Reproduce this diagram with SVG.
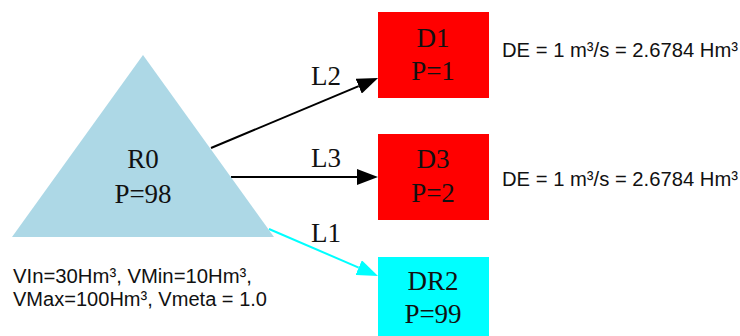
<svg xmlns="http://www.w3.org/2000/svg" width="740" height="336" viewBox="0 0 740 336">
<style>
.n{font-family:"Liberation Serif","Times New Roman",serif;font-size:27px;fill:#111;text-anchor:middle}
.s{font-family:"Liberation Sans",Arial,sans-serif;font-size:20px;fill:#111}
.e{fill:none;stroke-width:2}
</style>
<defs>
<marker id="ab" markerUnits="userSpaceOnUse" markerWidth="22" markerHeight="16" refX="0" refY="8" orient="auto"><path d="M0,0 L21,8 L0,16 z" fill="#000"/></marker>
<marker id="ac" markerUnits="userSpaceOnUse" markerWidth="22" markerHeight="16" refX="0" refY="8" orient="auto"><path d="M0,0 L21,8 L0,16 z" fill="#00FFFF"/></marker>
</defs>
<rect width="740" height="336" fill="#fff"/>
<g id="connectors">
<line class="e" x1="211" y1="148" x2="358.7" y2="86.2" stroke="#000" marker-end="url(#ab)"/>
<text class="n" x="326" y="85">L2</text>
<line class="e" x1="231" y1="177" x2="357" y2="177" stroke="#000" marker-end="url(#ab)"/>
<text class="n" x="326" y="167">L3</text>
<line class="e" x1="269" y1="229" x2="358.7" y2="267.6" stroke="#00FFFF" marker-end="url(#ac)"/>
<text class="n" x="326" y="242">L1</text>
</g>
<g id="R0">
<polygon points="143,55 274,237 12,237" fill="#ADD8E6"/>
<text class="n" x="143" y="168">R0</text>
<text class="n" x="143" y="203">P=98</text>
</g>
<g id="R0-info">
<text class="s" x="13" y="283" textLength="239" lengthAdjust="spacingAndGlyphs">VIn=30Hm³, VMin=10Hm³,</text>
<text class="s" x="13" y="306" textLength="254" lengthAdjust="spacingAndGlyphs">VMax=100Hm³, Vmeta = 1.0</text>
</g>
<g id="D1">
<rect x="378" y="12" width="111" height="86" fill="#FF0000"/>
<text class="n" x="433" y="47">D1</text>
<text class="n" x="433" y="80">P=1</text>
</g>
<g id="D1-info">
<text class="s" x="502" y="57" textLength="236" lengthAdjust="spacingAndGlyphs">DE = 1 m³/s = 2.6784 Hm³</text>
</g>
<g id="D3">
<rect x="378" y="134" width="111" height="86" fill="#FF0000"/>
<text class="n" x="433" y="168">D3</text>
<text class="n" x="433" y="202">P=2</text>
</g>
<g id="D3-info">
<text class="s" x="502" y="186" textLength="236" lengthAdjust="spacingAndGlyphs">DE = 1 m³/s = 2.6784 Hm³</text>
</g>
<g id="DR2">
<rect x="378" y="257" width="111" height="86" fill="#00FFFF"/>
<text class="n" x="433" y="290">DR2</text>
<text class="n" x="433" y="323">P=99</text>
</g>
</svg>
